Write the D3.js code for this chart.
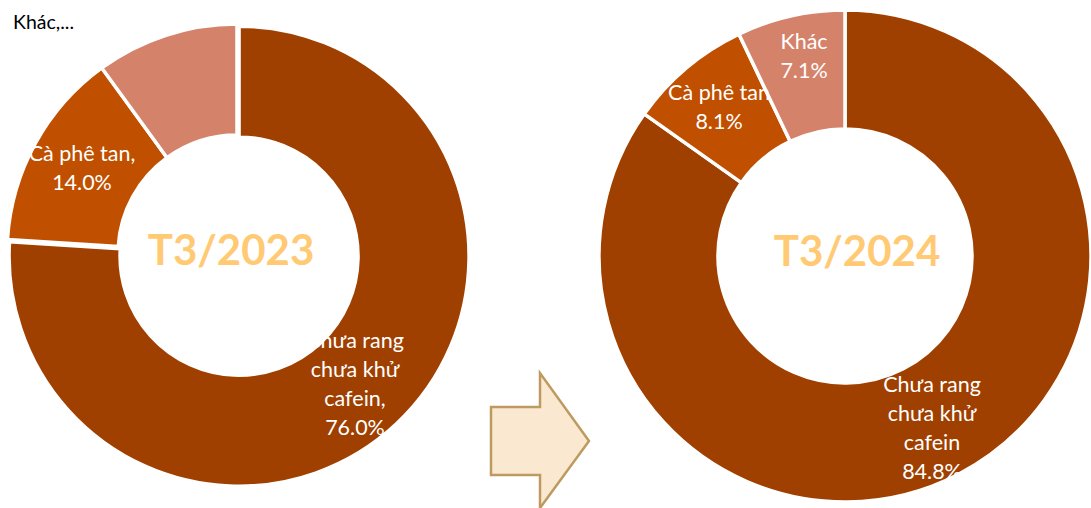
<!DOCTYPE html>
<html>
<head>
<meta charset="utf-8">
<script src="https://cdn.jsdelivr.net/npm/d3@7"></script>
<style>
  html, body { margin: 0; padding: 0; background: #fff; }
  svg { display: block; }
  text { font-family: Lato, "Open Sans", sans-serif; }
</style>
</head>
<body>
<svg id="chart" width="1091" height="508"></svg>
<script>
// Cơ cấu xuất khẩu cà phê theo chủng loại
const categories = ["Chưa rang chưa khử cafein", "Cà phê tan", "Khác"];
const categoryLines = [["Chưa rang", "chưa khử", "cafein"], ["Cà phê tan"], ["Khác"]];
const share2023 = [76.0, 14.0, 10.0];
const share2024 = [84.8, 8.1, 7.1];
const periods = ["T3/2023", "T3/2024"];
const sliceColors = ["#A04000", "#C05000", "#D5826B"];

const svg = d3.select("#chart");

const pie = d3.pie().sort(null).value(d => d.value).startAngle(0).endAngle(2 * Math.PI);

// Layout of each donut: centre, radii, label offsets (dx, dy) from centre
const donuts = [
  {
    period: periods[0], values: share2023, cx: 237, cy: 254, r0: 119, r1: 230,
    titleDx: -6, titleDy: -4, explode: [3, 0, 0], sep: ",",
    labels: [
      { dx: 118, dy: 130, show: true },
      { dx: -155, dy: -86, show: true },
      { show: false }
    ]
  },
  {
    period: periods[1], values: share2024, cx: 845, cy: 256, r0: 127, r1: 246,
    titleDx: 12, titleDy: -5, explode: [0, 0, 0], sep: "",
    labels: [
      { dx: 87, dy: 172, show: true },
      { dx: -126, dy: -149, show: true },
      { dx: -41, dy: -200, show: true }
    ]
  }
];

const lineH = 29;

donuts.forEach(cfg => {
  const data = categories.map((c, i) => ({ name: c, lines: categoryLines[i], value: cfg.values[i], color: sliceColors[i] }));
  const arcs = pie(data);
  const arc = d3.arc().innerRadius(cfg.r0).outerRadius(cfg.r1);

  const g = svg.append("g").attr("transform", `translate(${cfg.cx},${cfg.cy})`);

  g.selectAll("path.slice")
    .data(arcs)
    .join("path")
    .attr("class", "slice")
    .attr("d", arc)
    .attr("fill", d => d.data.color)
    .attr("stroke", "#fff")
    .attr("stroke-width", 3.5)
    .attr("stroke-linejoin", "miter")
    .attr("transform", (d, i) => {
      const off = cfg.explode[i];
      const a = (d.startAngle + d.endAngle) / 2;
      return `translate(${off * Math.sin(a)},${-off * Math.cos(a)})`;
    });

  // slice labels (name lines + percentage)
  arcs.forEach((d, i) => {
    const lab = cfg.labels[i];
    if (!lab.show) return;
    const lines = d.data.lines.slice();
    lines[lines.length - 1] += cfg.sep;
    lines.push(d3.format(".1f")(d.data.value) + "%");
    const top = lab.dy - (lines.length - 1) * lineH / 2;
    const t = g.append("text")
      .attr("text-anchor", "middle")
      .attr("fill", "#fff")
      .attr("font-size", 21.5);
    lines.forEach((ln, k) => {
      t.append("tspan")
        .attr("x", lab.dx)
        .attr("y", top + k * lineH)
        .attr("dy", "0.35em")
        .text(ln);
    });
  });

  // period in the hole
  g.append("text")
    .attr("x", cfg.titleDx)
    .attr("y", cfg.titleDy)
    .attr("dy", "0.35em")
    .attr("text-anchor", "middle")
    .attr("font-size", 42)
    .attr("font-weight", 700)
    .attr("fill", "#FFCA73")
    .text(cfg.period);
});

// truncated label of the "Khác" slice in 2023
svg.append("text")
  .attr("x", 13)
  .attr("y", 22)
  .attr("dy", "0.35em")
  .attr("font-size", 19.5)
  .attr("fill", "#000")
  .text("Khác,...");

// arrow between the two periods
const ax = d3.scaleLinear().domain([0, 1]).range([491, 589]);
const ay = d3.scaleLinear().domain([0, 1]).range([373, 508]);
const arrowPts = [
  [0, 0.252], [0.5, 0.252], [0.5, 0], [1, 0.504], [0.5, 1.0], [0.5, 0.756], [0, 0.756]
];
svg.append("path")
  .attr("d", d3.line().x(p => ax(p[0])).y(p => ay(p[1]))(arrowPts) + "Z")
  .attr("fill", "#FBE8D0")
  .attr("stroke", "#BC9A60")
  .attr("stroke-width", 2.5)
  .attr("stroke-linejoin", "miter");
</script>
</body>
</html>
